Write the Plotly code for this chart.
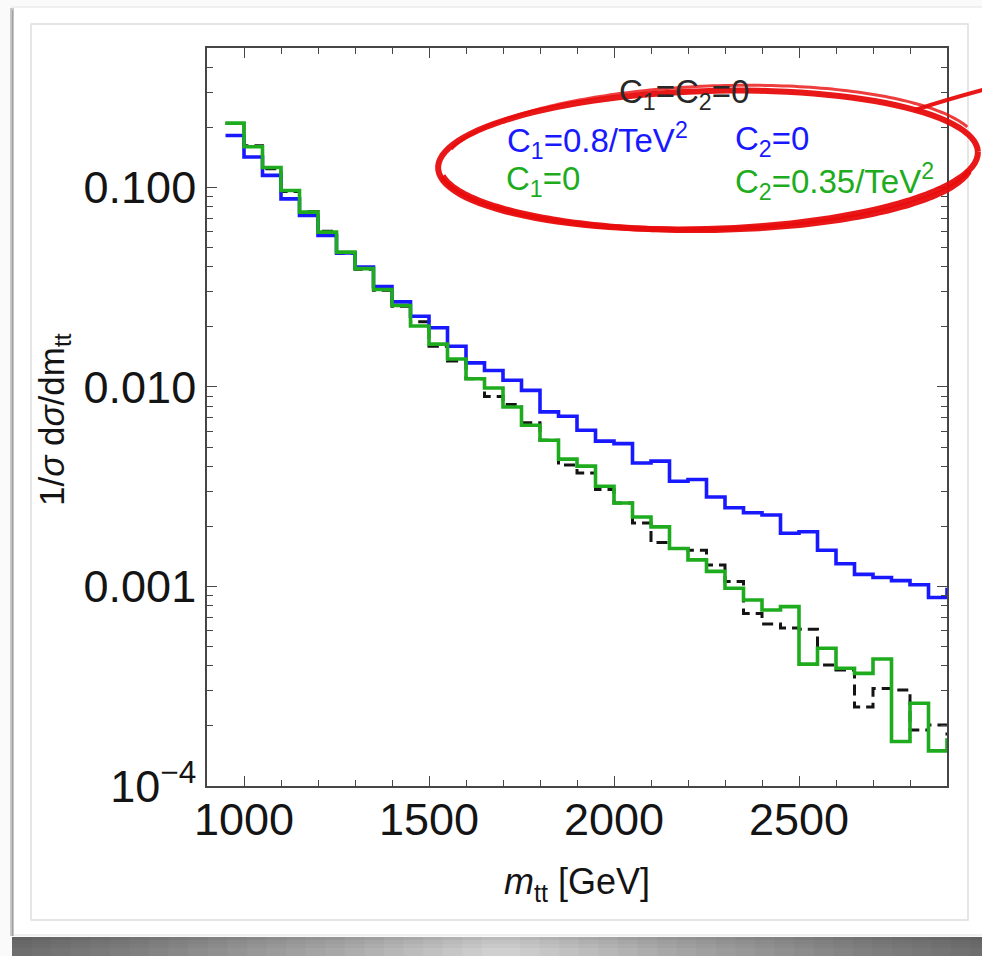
import numpy as np
import plotly.graph_objects as go

# ---------------------------------------------------------------------------
# Normalised m_tt distributions, 50 GeV bins starting at 950 GeV
# (the last bin 2900-2950 lies just beyond the frame edge)
# ---------------------------------------------------------------------------
bin_edges = list(range(950, 3000, 50))

sm_vals = [0.209, 0.162, 0.124, 0.0955, 0.0755, 0.0604, 0.0468, 0.0389, 0.0305, 0.0254,
           0.0212, 0.0160, 0.0135, 0.0110, 0.00897, 0.00818, 0.00661, 0.00541, 0.00406, 0.00371,
           0.00306, 0.00262, 0.00208, 0.00166, 0.00155, 0.00152, 0.00128, 0.00106, 0.000733, 0.000649,
           0.000619, 0.000610, 0.000404, 0.000381, 0.000249, 0.000308, 0.000303, 0.000191, 0.000202, 0.000182]

c1_vals = [0.182, 0.142, 0.115, 0.0877, 0.0724, 0.0575, 0.0469, 0.0399, 0.0319, 0.0267,
           0.0226, 0.0198, 0.0160, 0.0132, 0.0121, 0.0108, 0.00962, 0.00750, 0.00713, 0.00607,
           0.00535, 0.00520, 0.00416, 0.00425, 0.00337, 0.00344, 0.00281, 0.00248, 0.00234, 0.00228,
           0.00185, 0.00188, 0.00152, 0.00130, 0.00115, 0.00111, 0.00107, 0.00102, 0.000881, 0.000966]

c2_vals = [0.210, 0.160, 0.126, 0.0966, 0.0752, 0.0597, 0.0474, 0.0392, 0.0308, 0.0256,
           0.0202, 0.0164, 0.0138, 0.0110, 0.00989, 0.00794, 0.00643, 0.00541, 0.00435, 0.00401,
           0.00318, 0.00262, 0.00223, 0.00199, 0.00155, 0.00136, 0.00119, 0.000980, 0.000855, 0.000762,
           0.000793, 0.000408, 0.000490, 0.000389, 0.000367, 0.000433, 0.000167, 0.000260, 0.000150, 0.000170]

x_ticks = [1000, 1500, 2000, 2500]
y_ticks = [1e-4, 1e-3, 1e-2, 1e-1]
y_tick_text = ["10<sup>\u22124</sup>", "0.001", "0.010", "0.100"]

BLUE = "rgb(25,25,255)"
GREEN = "rgb(30,172,30)"
BLACK = "rgb(20,20,20)"
AXIS = "rgb(70,70,70)"
FONT = "Liberation Sans, Arial, Helvetica, sans-serif"

W, H = 982, 956
ML, MR, MT, MB = 207, 35, 48, 170
PW, PH = W - ML - MR, H - MT - MB


def px(x):
    return (x - ML) / PW


def py(y):
    return (H - MB - y) / PH


def step(vals):
    return vals + [vals[-1]]


fig = go.Figure()
fig.add_trace(go.Scatter(x=bin_edges, y=step(sm_vals), mode="lines", line_shape="hv",
                         line=dict(color=BLACK, width=3, dash="11px,6px"), showlegend=False))
fig.add_trace(go.Scatter(x=bin_edges, y=step(c1_vals), mode="lines", line_shape="hv",
                         line=dict(color=BLUE, width=3.6), showlegend=False))
fig.add_trace(go.Scatter(x=bin_edges, y=step(c2_vals), mode="lines", line_shape="hv",
                         line=dict(color=GREEN, width=3.6), showlegend=False))

minor_y = [m * 10.0 ** d for d in range(-4, 0) for m in range(2, 10) if m * 10.0 ** d <= 0.5]

fig.update_xaxes(
    range=[900, 2900], tickmode="array", tickvals=x_ticks,
    ticks="inside", ticklen=10, tickwidth=1.3, tickcolor=AXIS,
    showline=True, linecolor=AXIS, linewidth=1.6, mirror="ticks",
    showgrid=False, zeroline=False,
    tickfont=dict(family=FONT, size=45, color=BLACK), ticklabelstandoff=-7,
    minor=dict(ticks="inside", ticklen=6, tickwidth=1.1, tickcolor=AXIS, dtick=100, tick0=0, showgrid=False),
)
fig.update_yaxes(
    type="log", range=[-4, np.log10(0.5)], tickmode="array", tickvals=y_ticks, ticktext=y_tick_text,
    ticks="inside", ticklen=10, tickwidth=1.3, tickcolor=AXIS,
    showline=True, linecolor=AXIS, linewidth=1.6, mirror="ticks",
    showgrid=False, zeroline=False,
    tickfont=dict(family=FONT, size=45, color=BLACK), ticklabelstandoff=0,
    minor=dict(ticks="inside", ticklen=6, tickwidth=1.1, tickcolor=AXIS,
               tickmode="array", tickvals=minor_y, showgrid=False),
)

shapes = []
# card panel with soft edges
shapes.append(dict(type="rect", xref="paper", yref="paper", layer="below",
                   x0=px(12), x1=px(990), y0=py(935), y1=py(7),
                   line=dict(color="rgb(236,236,236)", width=1.5), fillcolor="white"))
shapes.append(dict(type="line", xref="paper", yref="paper", layer="below",
                   x0=px(12), x1=px(12), y0=py(936), y1=py(8),
                   line=dict(color="rgb(200,200,200)", width=4)))
shapes.append(dict(type="line", xref="paper", yref="paper", layer="below",
                   x0=px(12.5), x1=px(12.5), y0=py(936), y1=py(10),
                   line=dict(color="rgb(160,160,160)", width=1.2)))
shapes.append(dict(type="rect", xref="paper", yref="paper", layer="below",
                   x0=px(31), x1=px(968), y0=py(920), y1=py(24),
                   line=dict(color="rgb(222,222,222)", width=1.5), fillcolor="rgba(0,0,0,0)"))

# curved drop shadow under the card: a light band, darkening towards both ends
shapes.append(dict(type="rect", xref="paper", yref="paper", layer="below",
                   x0=px(12), x1=px(990), y0=py(960), y1=py(937),
                   line=dict(width=0), fillcolor="rgba(0,0,0,0.17)"))
n_steps = 24
for i in range(n_steps):
    reach = 470 * (1 - i / n_steps)
    shapes.append(dict(type="rect", xref="paper", yref="paper", layer="below",
                       x0=px(12), x1=px(12 + reach), y0=py(960), y1=py(937),
                       line=dict(width=0), fillcolor="rgba(0,0,0,0.022)"))
    shapes.append(dict(type="rect", xref="paper", yref="paper", layer="below",
                       x0=px(990 - reach), x1=px(990), y0=py(960), y1=py(937),
                       line=dict(width=0), fillcolor="rgba(0,0,0,0.022)"))
for (y0, y1, op) in [(937, 940, 0.10), (940, 944, 0.06), (944, 948, 0.03)]:
    shapes.append(dict(type="rect", xref="paper", yref="paper", layer="below",
                       x0=px(12), x1=px(990), y0=py(y1), y1=py(y0),
                       line=dict(width=0), fillcolor=f"rgba(0,0,0,{op})"))


# hand-drawn red ring around the parameter labels
def ring(cx, cy, a, b, tilt, t0=0.0, t1=2 * np.pi, n=120):
    t = np.linspace(t0, t1, n)
    xs = cx + a * np.cos(t) * np.cos(tilt) - b * np.sin(t) * np.sin(tilt)
    ys = cy + a * np.cos(t) * np.sin(tilt) + b * np.sin(t) * np.cos(tilt)
    pts = [f"{px(x):.5f},{py(y):.5f}" for x, y in zip(xs, ys)]
    return "M " + " L ".join(pts)


RED = "rgba(232,12,12,0.95)"
shapes.append(dict(type="path", xref="paper", yref="paper", layer="above",
                   path=ring(708, 160, 270, 69, -0.03), line=dict(color=RED, width=6)))
shapes.append(dict(type="path", xref="paper", yref="paper", layer="above",
                   path=ring(706, 164, 266, 66, -0.01, 0.15, 3.0), line=dict(color=RED, width=6)))
shapes.append(dict(type="path", xref="paper", yref="paper", layer="above",
                   path=ring(711, 157, 268, 71, -0.04, 3.4, 6.0), line=dict(color="rgba(232,12,12,0.8)", width=3)))
shapes.append(dict(type="path", xref="paper", yref="paper", layer="above",
                   path=f"M {px(915):.5f},{py(110):.5f} Q {px(945):.5f},{py(100):.5f} {px(990):.5f},{py(88):.5f}",
                   line=dict(color=RED, width=4)))

annotations = [
    dict(text="<i>m</i><sub>tt</sub> [GeV]", x=px(577), y=py(884), xref="paper", yref="paper",
         showarrow=False, xanchor="center", yanchor="middle",
         font=dict(family=FONT, size=36, color=BLACK)),
    dict(text="1/<i>σ</i> d<i>σ</i>/dm<sub>tt</sub>", x=px(54), y=py(420), xref="paper", yref="paper",
         showarrow=False, xanchor="center", yanchor="middle", textangle=-90,
         font=dict(family=FONT, size=35, color=BLACK)),
    dict(text="C<sub>1</sub>=C<sub>2</sub>=0", x=px(617), y=py(94), xref="paper", yref="paper",
         showarrow=False, xanchor="left", yanchor="middle",
         font=dict(family=FONT, size=33, color="rgb(40,40,40)")),
    dict(text="C<sub>1</sub>=0.8/TeV<sup>2</sup>", x=px(505), y=py(141), xref="paper", yref="paper",
         showarrow=False, xanchor="left", yanchor="middle",
         font=dict(family=FONT, size=33, color=BLUE)),
    dict(text="C<sub>2</sub>=0", x=px(733), y=py(141), xref="paper", yref="paper",
         showarrow=False, xanchor="left", yanchor="middle",
         font=dict(family=FONT, size=33, color=BLUE)),
    dict(text="C<sub>1</sub>=0", x=px(504), y=py(181), xref="paper", yref="paper",
         showarrow=False, xanchor="left", yanchor="middle",
         font=dict(family=FONT, size=33, color=GREEN)),
    dict(text="C<sub>2</sub>=0.35/TeV<sup>2</sup>", x=px(733), y=py(181), xref="paper", yref="paper",
         showarrow=False, xanchor="left", yanchor="middle",
         font=dict(family=FONT, size=33, color=GREEN)),
]

fig.update_layout(
    width=W, height=H, autosize=False,
    margin=dict(l=ML, r=MR, t=MT, b=MB),
    paper_bgcolor="rgb(250,250,250)", plot_bgcolor="rgba(0,0,0,0)",
    shapes=shapes, annotations=annotations, showlegend=False,
)

fig.write_html("out.html")
